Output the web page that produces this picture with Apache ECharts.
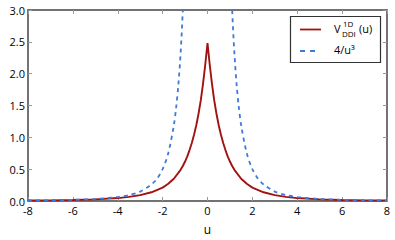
<!DOCTYPE html>
<html><head><meta charset="utf-8">
<script src="https://cdn.jsdelivr.net/npm/echarts@6/dist/echarts.min.js"></script>
<style>html,body{margin:0;padding:0;background:#fff}#c{width:395px;height:240px}</style>
</head><body><div id="c"></div>
<script>
// Data
var uHalfRed = [0, 0.1, 0.2, 0.3, 0.4, 0.5, 0.6, 0.7, 0.8, 0.9, 1.0, 1.1, 1.2, 1.5, 1.75, 2, 2.5, 3, 3.5, 4, 5, 6, 7, 8];
var vHalfRed = [2.48, 2.14, 1.84, 1.58, 1.37, 1.19, 1.04, 0.91, 0.80, 0.70, 0.62, 0.55, 0.49, 0.35, 0.27, 0.21, 0.137, 0.092, 0.064, 0.046, 0.026, 0.016, 0.010, 0.007];
var uHalfBlue = [1.0, 1.1, 1.2, 1.3, 1.4, 1.5, 1.75, 2, 2.25, 2.5, 3, 3.5, 4, 5, 6, 7, 8];
var vHalfBlue = [4.0, 3.0, 2.31, 1.82, 1.46, 1.19, 0.75, 0.50, 0.35, 0.26, 0.148, 0.093, 0.0625, 0.032, 0.0185, 0.0117, 0.0078];
var xTicks = [-8, -6, -4, -2, 0, 2, 4, 6, 8];
var yTicks = [0.0, 0.5, 1.0, 1.5, 2.0, 2.5, 3.0];
var legendNames = ['V(u)', '4/u³'];

function mirror(us, vs) {
  var out = [];
  for (var i = us.length - 1; i >= 0; i--) if (us[i] !== 0) out.push([-us[i], vs[i]]);
  for (var j = 0; j < us.length; j++) out.push([us[j], vs[j]]);
  return out;
}
var redData = mirror(uHalfRed, vHalfRed);
var blueLeft = [], blueRight = [];
for (var i = uHalfBlue.length - 1; i >= 0; i--) blueLeft.push([-uHalfBlue[i], vHalfBlue[i]]);
for (var k = 0; k < uHalfBlue.length; k++) blueRight.push([uHalfBlue[k], vHalfBlue[k]]);

var frame = '#444444';
var font = 'Open Sans';
var red = '#a11212', blue = '#3f7ad6';
var chart = echarts.init(document.getElementById('c'), null, {renderer: 'svg'});
chart.setOption({
  animation: false,
  backgroundColor: '#fff',
  grid: {left: 28, right: 8, top: 10, bottom: 35, containLabel: false},
  xAxis: [{
    type: 'value', min: xTicks[0], max: xTicks[xTicks.length - 1], interval: 2,
    name: 'u', nameLocation: 'middle', nameGap: 22,
    nameTextStyle: {fontFamily: font, fontSize: 12, color: '#000'},
    axisLine: {show: true, onZero: false, lineStyle: {color: frame, width: 1.5}},
    axisTick: {show: true, inside: true, length: 4, lineStyle: {color: '#999'}},
    axisLabel: {fontFamily: font, fontSize: 11, color: '#000', margin: 4},
    splitLine: {show: false}
  }, {
    type: 'value', position: 'top', min: xTicks[0], max: xTicks[xTicks.length - 1], interval: 2,
    axisLine: {show: true, onZero: false, lineStyle: {color: frame, width: 1.5}},
    axisTick: {show: true, inside: true, length: 4, lineStyle: {color: '#999'}},
    axisLabel: {show: false}, splitLine: {show: false}
  }],
  yAxis: [{
    type: 'value', min: yTicks[0], max: yTicks[yTicks.length - 1], interval: 0.5,
    axisLine: {show: true, onZero: false, lineStyle: {color: frame, width: 1.5}},
    axisTick: {show: true, inside: true, length: 4, lineStyle: {color: '#999'}},
    axisLabel: {fontFamily: font, fontSize: 11, color: '#000', margin: 3,
      formatter: function (v) { return v.toFixed(1); }},
    splitLine: {show: false}
  }, {
    type: 'value', position: 'right', min: yTicks[0], max: yTicks[yTicks.length - 1], interval: 0.5,
    axisLine: {show: true, onZero: false, lineStyle: {color: frame, width: 1.5}},
    axisTick: {show: true, inside: true, length: 4, lineStyle: {color: '#999'}},
    axisLabel: {show: false}, splitLine: {show: false}
  }],
  graphic: [
    {type: 'rect', shape: {x: 290.5, y: 16.5, width: 90, height: 46},
     style: {fill: '#fff', stroke: '#333', lineWidth: 1.2}, z: 100},
    {type: 'line', shape: {x1: 300, y1: 29.5, x2: 321, y2: 29.5},
     style: {stroke: red, lineWidth: 1.8}, z: 101},
    {type: 'line', shape: {x1: 300, y1: 51, x2: 316, y2: 51},
     style: {stroke: blue, lineWidth: 1.8, lineDash: [5, 5]}, z: 101},
    {type: 'text', x: 334, y: 23, z: 101,
     style: {text: 'V', fontFamily: font, fontSize: 11, fill: '#000'}},
    {type: 'text', x: 343, y: 19, z: 101,
     style: {text: '1D', fontFamily: font, fontSize: 8, fill: '#000'}},
    {type: 'text', x: 342, y: 29, z: 101,
     style: {text: 'DDI', fontFamily: font, fontSize: 8, fill: '#000'}},
    {type: 'text', x: 359, y: 23, z: 101,
     style: {text: '(u)', fontFamily: font, fontSize: 11, fill: '#000'}},
    {type: 'text', x: 334, y: 44, z: 101,
     style: {text: legendNames[1], fontFamily: font, fontSize: 11, fill: '#000'}}
  ],
  series: [{
    name: legendNames[0], type: 'line', data: redData, symbol: 'none', clip: true,
    lineStyle: {color: red, width: 1.9}, itemStyle: {color: red}, z: 3
  }, {
    name: legendNames[1], type: 'line', data: blueLeft, symbol: 'none', clip: true, smooth: 0.3,
    lineStyle: {color: blue, width: 1.8, type: [4, 4]}, itemStyle: {color: blue}
  }, {
    name: legendNames[1], type: 'line', data: blueRight, symbol: 'none', clip: true, smooth: 0.3,
    lineStyle: {color: blue, width: 1.8, type: [4, 4]}, itemStyle: {color: blue}
  }]
});
</script></body></html>
